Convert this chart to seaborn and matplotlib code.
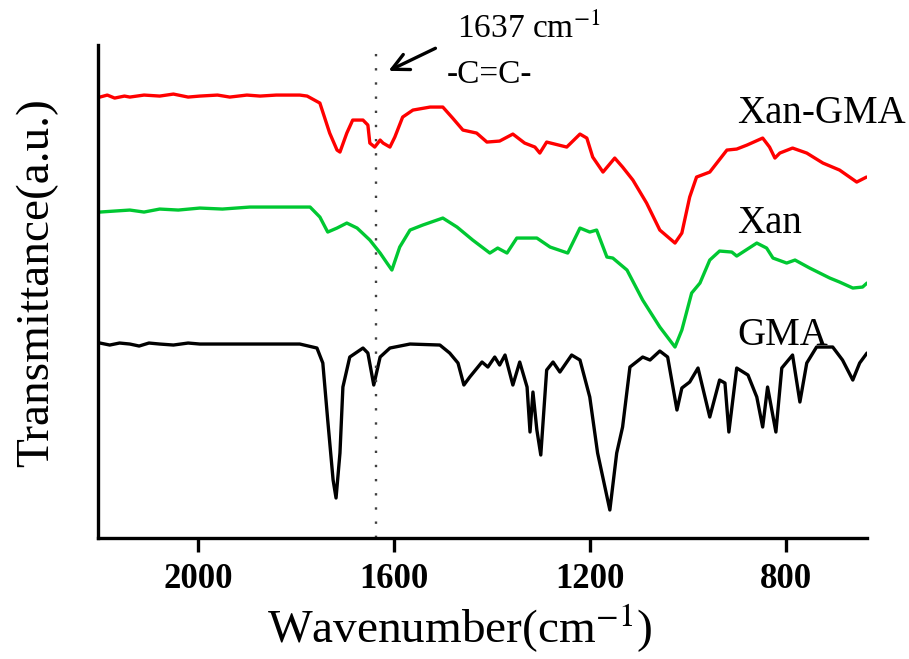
import matplotlib
matplotlib.use("Agg")
import matplotlib.pyplot as plt
import pandas as pd
import seaborn as sns

# FTIR spectra (wavenumber in cm-1, transmittance in a.u.)
xan_gma_wn = [2200, 2185, 2170, 2150, 2139, 2110, 2078, 2050, 2020, 1996, 1960, 1935,
              1900, 1873, 1840, 1792, 1777, 1751, 1731, 1716, 1710, 1696, 1684, 1663,
              1653, 1649, 1639, 1628, 1622, 1608, 1598, 1582, 1561, 1526, 1500, 1480,
              1459, 1431, 1410, 1384, 1357, 1333, 1312, 1302, 1288, 1247, 1220, 1206,
              1194, 1173, 1149, 1133, 1112, 1084, 1057, 1026, 1012, 996, 982, 955,
              920, 900, 879, 847, 833, 822, 812, 786, 757, 724, 690, 655, 635]
xan_gma_t = [441, 443, 440, 442, 441, 443, 442, 444, 441, 442, 443, 441,
             443, 442, 443, 443, 442, 435, 405, 388, 386, 405, 418, 418,
             413, 395, 391, 398, 395, 391, 401, 421, 428, 431, 431, 420,
             408, 405, 396, 397, 404, 395, 391, 385, 396, 391, 404, 400,
             381, 366, 380, 371, 358, 335, 308, 295, 305, 341, 361, 366,
             388, 389, 393, 400, 391, 380, 385, 390, 385, 375, 368, 356, 361]

xan_wn = [2200, 2170, 2139, 2110, 2078, 2040, 1996, 1950, 1894, 1830, 1771, 1751,
          1735, 1716, 1696, 1675, 1649, 1628, 1614, 1604, 1588, 1567, 1541, 1500,
          1471, 1439, 1404, 1388, 1369, 1349, 1308, 1281, 1245, 1220, 1200, 1186,
          1165, 1153, 1124, 1092, 1057, 1026, 1012, 992, 975, 955, 935, 910,
          900, 859, 839, 826, 798, 781, 751, 710, 690, 663, 643, 634]
xan_t = [326, 327, 328, 326, 329, 328, 330, 329, 331, 331, 331, 321,
         306, 310, 315, 310, 298, 285, 275, 268, 291, 308, 313, 320,
         311, 298, 285, 290, 285, 300, 300, 291, 285, 310, 306, 308,
         281, 280, 268, 238, 211, 191, 208, 245, 255, 278, 287, 286,
         282, 295, 290, 280, 275, 278, 270, 260, 256, 250, 251, 255]

gma_wn = [2200, 2180, 2160, 2139, 2120, 2100, 2078, 2050, 2020, 1996, 1900, 1792,
          1757, 1745, 1735, 1724, 1718, 1710, 1704, 1690, 1663, 1653, 1641, 1628,
          1608, 1567, 1506, 1486, 1469, 1457, 1445, 1420, 1408, 1394, 1384, 1373,
          1357, 1343, 1328, 1322, 1316, 1308, 1300, 1288, 1275, 1261, 1237, 1220,
          1200, 1184, 1159, 1145, 1133, 1118, 1092, 1077, 1057, 1041, 1022, 1012,
          996, 979, 955, 935, 924, 916, 900, 877, 859, 847, 837, 820,
          808, 786, 771, 757, 737, 704, 684, 663, 649, 634]
gma_t = [195, 193, 195, 194, 192, 195, 194, 193, 195, 194, 194, 194,
         190, 175, 118, 58, 40, 85, 151, 181, 190, 185, 153, 181,
         190, 194, 193, 185, 175, 153, 161, 176, 171, 181, 173, 183,
         153, 176, 151, 106, 146, 108, 83, 168, 176, 166, 183, 178,
         141, 85, 28, 85, 111, 171, 181, 178, 187, 181, 128, 150,
         156, 170, 121, 158, 155, 106, 170, 163, 141, 111, 151, 106,
         170, 183, 136, 175, 191, 191, 178, 158, 175, 185]

samples = ["Xan-GMA", "Xan", "GMA"]
colors = {"Xan-GMA": "#ff0000", "Xan": "#00c832", "GMA": "#000000"}

frames = []
for name, wn, t in [("Xan-GMA", xan_gma_wn, xan_gma_t),
                    ("Xan", xan_wn, xan_t),
                    ("GMA", gma_wn, gma_t)]:
    frames.append(pd.DataFrame({"wavenumber": wn, "transmittance": t, "sample": name}))
spectra = pd.concat(frames, ignore_index=True)

sns.set_style("ticks")
plt.rcParams["font.family"] = ["Liberation Serif", "DejaVu Serif"]
plt.rcParams["mathtext.fontset"] = "stix"
plt.rcParams["text.color"] = "black"
plt.rcParams["axes.labelcolor"] = "black"
plt.rcParams["axes.edgecolor"] = "black"
plt.rcParams["xtick.color"] = "black"

fig = plt.figure(figsize=(9.09, 6.59), dpi=100)
ax = fig.add_axes([0.1078, 0.1836, 0.846, 0.748])

sns.lineplot(data=spectra, x="wavenumber", y="transmittance", hue="sample",
             hue_order=samples, palette=colors, estimator=None, errorbar=None,
             linewidth=2.4, legend=False, ax=ax)

ax.set_xlim(2204, 634)
ax.set_ylim(0, 493)
ax.set_xticks([2000, 1600, 1200, 800])
ax.set_yticks([])
sns.despine(ax=ax)
for side in ["left", "bottom"]:
    ax.spines[side].set_linewidth(2.4)
ax.tick_params(axis="x", length=10, width=2.4, pad=8, labelsize=25)
for lab in ax.get_xticklabels():
    lab.set_fontweight("bold")

ax.set_xlabel("Wavenumber(cm$^{-1}$)", fontsize=34)
ax.xaxis.set_label_coords(0.471, -0.128)
ax.set_ylabel("Transmittance(a.u.)", fontsize=34)
ax.yaxis.set_label_coords(-0.052, 0.519)

# C=C band marker
ax.axvline(1637, color="0.25", linestyle=(0, (1, 5)), linewidth=1.7)
ax.annotate("", xy=(1616, 466), xytext=(1510, 491),
            arrowprops=dict(arrowstyle="->,head_length=1.2,head_width=0.6",
                            lw=2.4, color="black"), annotation_clip=False)
fig.text(0.503, 0.942, "1637 cm$^{-1}$", fontsize=24)
fig.text(0.492, 0.874, "-C=C-", fontsize=24)

for name, ypos in [("Xan-GMA", 0.813), ("Xan", 0.646), ("GMA", 0.476)]:
    fig.text(0.811, ypos, name, fontsize=28)

fig.savefig("out.png", dpi=100)
